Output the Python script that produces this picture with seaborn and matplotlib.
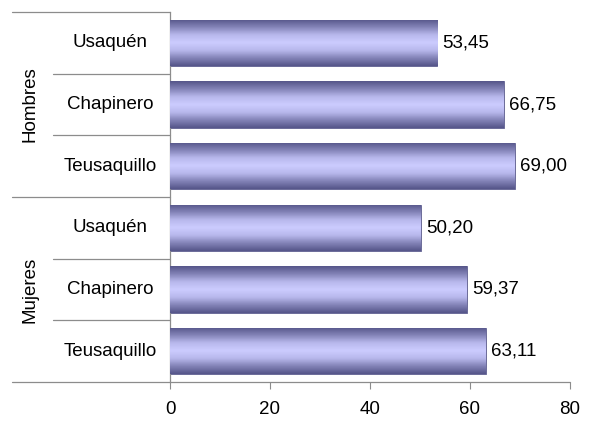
import numpy as np
import pandas as pd
import matplotlib
matplotlib.use('Agg')
import matplotlib.pyplot as plt
from matplotlib.colors import LinearSegmentedColormap
import seaborn as sns

# data, top to bottom
grupos = ['Hombres', 'Hombres', 'Hombres', 'Mujeres', 'Mujeres', 'Mujeres']
localidades = ['Usaquén', 'Chapinero', 'Teusaquillo', 'Usaquén', 'Chapinero', 'Teusaquillo']
valores = [53.45, 66.75, 69.00, 50.20, 59.37, 63.11]
xticks = [0, 20, 40, 60, 80]

df = pd.DataFrame({'grupo': grupos, 'localidad': localidades, 'valor': valores})
df['fila'] = df['grupo'] + ' ' + df['localidad']

sns.set_style('white')
plt.rcParams['font.family'] = ['Liberation Sans', 'DejaVu Sans']
plt.rcParams['text.color'] = 'black'
GRIS = '#8c8c8c'
FS = 13.5

fig = plt.figure(figsize=(5.89, 4.21), dpi=100)
ax = fig.add_axes([170 / 589, 1 - 382 / 421, 400 / 589, 370 / 421])

sns.barplot(data=df, x='valor', y='fila', order=list(df['fila']), orient='h',
            width=0.75, color='#9999cc', edgecolor='#5c5c8e', linewidth=0.6,
            ax=ax, zorder=2)

# vertical gradient fill on each bar: dark edges, light middle
cmap = LinearSegmentedColormap.from_list(
    'barra', ['#56568a', '#8484b8', '#b8b8ec', '#ccccff', '#b8b8ec', '#8484b8', '#56568a'])
grad = np.linspace(0, 1, 64).reshape(-1, 1)
for p in ax.patches:
    x0, y0 = p.get_x(), p.get_y()
    w, h = p.get_width(), p.get_height()
    im = ax.imshow(grad, cmap=cmap, aspect='auto', extent=(x0, x0 + w, y0 + h, y0),
                   interpolation='bilinear', zorder=3)
    im.set_clip_path(p)
    ax.text(x0 + w + 1.0, y0 + h / 2, f'{w:.2f}'.replace('.', ','),
            va='center', ha='left', fontsize=FS, color='black')

ax.set_xlim(0, 80)
ax.set_ylim(5.5, -0.5)
ax.set_xticks(xticks)
ax.set_xticklabels([str(t) for t in xticks], fontsize=FS, color='black')
ax.set_yticks([])
ax.set_xlabel('')
ax.set_ylabel('')
ax.tick_params(axis='x', length=5, width=0.8, color=GRIS, direction='out', pad=9, bottom=True)

for s in ['top', 'right']:
    ax.spines[s].set_visible(False)
ax.spines['left'].set_color(GRIS)
ax.spines['left'].set_linewidth(0.9)
ax.spines['bottom'].set_visible(False)

tr = ax.get_yaxis_transform()
# two-level category axis: lines, labels
for yb in [-0.5, 2.5, 5.5]:
    ax.plot([-0.395, 1.0 if yb == 5.5 else 0], [yb, yb], color=GRIS, lw=0.9,
            transform=tr, clip_on=False, zorder=4)
for yb in [0.5, 1.5, 3.5, 4.5]:
    ax.plot([-0.2925, 0], [yb, yb], color=GRIS, lw=0.9, transform=tr, clip_on=False)

for i, loc in enumerate(localidades):
    ax.text(-0.15, i, loc, transform=tr, ha='center', va='center', fontsize=FS)
for g, yc in [('Hombres', 1), ('Mujeres', 4)]:
    ax.text(-0.35, yc, g, transform=tr, ha='center', va='center', rotation=90, fontsize=FS)

fig.savefig('out.png', dpi=100)
